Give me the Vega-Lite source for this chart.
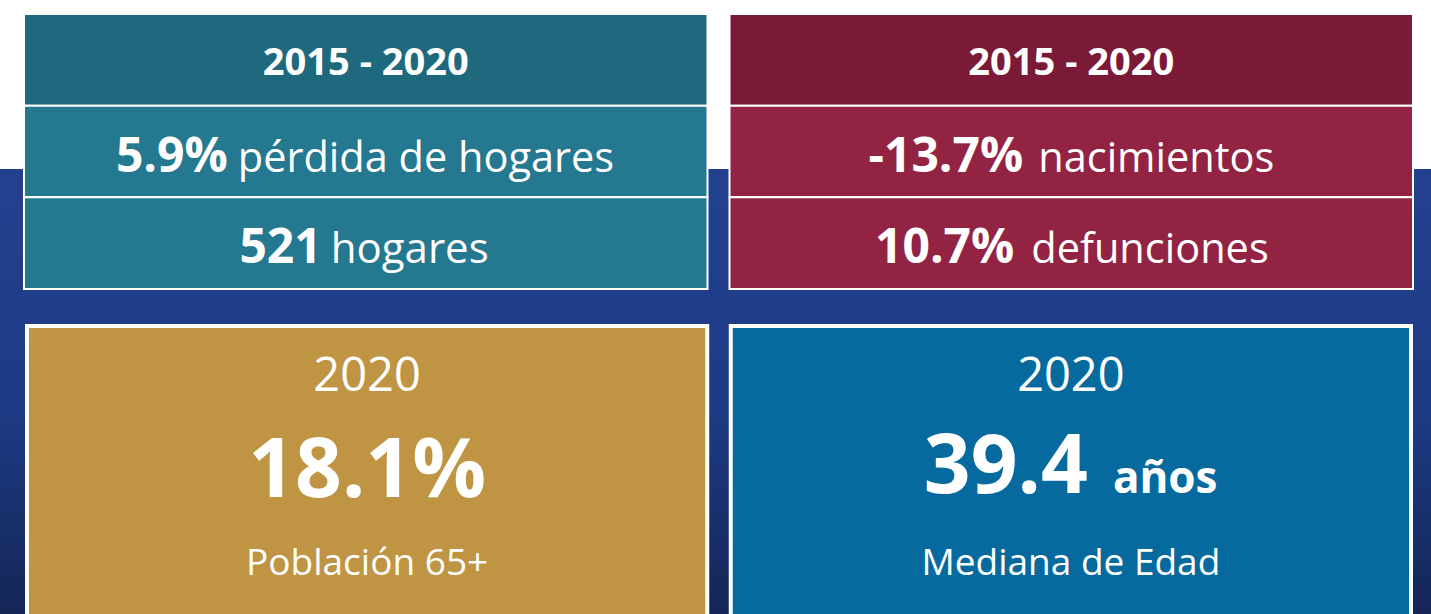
{
  "$schema": "https://vega.github.io/schema/vega-lite/v6.json",
  "width": 1431,
  "height": 614,
  "autosize": {"type": "fit", "contains": "padding"},
  "padding": 0,
  "background": "#ffffff",
  "config": {"view": {"stroke": null}, "text": {"font": "Open Sans", "color": "#ffffff", "baseline": "alphabetic"}},
  "datasets": {
    "fondo": [{"zona": "fondo"}],
    "tablas": [
      {"panel": "hogares", "fila": "encabezado", "cifra": "2015 - 2020", "texto": ""},
      {"panel": "hogares", "fila": "fila1", "cifra": "5.9%", "texto": "pérdida de hogares"},
      {"panel": "hogares", "fila": "fila2", "cifra": "521", "texto": "hogares"},
      {"panel": "vitales", "fila": "encabezado", "cifra": "2015 - 2020", "texto": ""},
      {"panel": "vitales", "fila": "fila1", "cifra": "-13.7%", "texto": "nacimientos"},
      {"panel": "vitales", "fila": "fila2", "cifra": "10.7%", "texto": "defunciones"}
    ],
    "tarjetas": [
      {"panel": "poblacion", "anio": "2020", "cifra": "18.1%", "unidad": "", "etiqueta": "Población 65+"},
      {"panel": "edad", "anio": "2020", "cifra": "39.4", "unidad": "años", "etiqueta": "Mediana de Edad"}
    ]
  },
  "layer": [
    {
      "data": {"name": "fondo"},
      "mark": {"type": "rect", "color": {"gradient": "linear", "x1": 0, "y1": 0, "x2": 0, "y2": 1, "stops": [{"offset": 0, "color": "#23418f"}, {"offset": 0.55, "color": "#1d3a84"}, {"offset": 1, "color": "#152656"}]}},
      "encoding": {
        "x": {"field": "zona", "type": "nominal", "axis": null, "scale": {"type": "band", "domain": ["fondo"], "range": [0, 1431], "paddingInner": 0, "paddingOuter": 0}},
        "y": {"field": "zona", "type": "nominal", "axis": null, "scale": {"type": "band", "domain": ["fondo"], "range": [169, 614], "paddingInner": 0, "paddingOuter": 0}}
      }
    },
    {
      "data": {"name": "tablas"},
      "encoding": {
        "x": {"field": "panel", "type": "nominal", "axis": null, "scale": {"type": "band", "domain": ["hogares", "vitales"], "range": [24, 1413], "paddingInner": 0.0312, "paddingOuter": 0}},
        "y": {"field": "fila", "type": "nominal", "axis": null, "scale": {"type": "band", "domain": ["encabezado", "fila1", "fila2"], "range": [14, 289], "paddingInner": 0, "paddingOuter": 0}}
      },
      "layer": [
        {
          "mark": {"type": "rect", "stroke": "#ffffff", "strokeWidth": 2},
          "encoding": {
            "color": {
              "condition": [
                {"test": "datum.panel === 'hogares' && datum.fila === 'encabezado'", "value": "#1f697e"},
                {"test": "datum.panel === 'hogares'", "value": "#24788f"},
                {"test": "datum.fila === 'encabezado'", "value": "#7a1a36"}
              ],
              "value": "#932342"
            }
          }
        },
        {
          "transform": [{"filter": "datum.fila === 'encabezado'"}],
          "mark": {"type": "text", "align": "center", "dy": 15, "fontSize": 38, "fontWeight": "bold"},
          "encoding": {"text": {"field": "cifra", "type": "nominal"}}
        },
        {
          "transform": [{"filter": "datum.panel === 'hogares' && datum.fila === 'fila1'"}],
          "mark": {"type": "text", "align": "right", "dx": -138, "dy": 20, "fontSize": 48, "fontWeight": "bold"},
          "encoding": {"text": {"field": "cifra", "type": "nominal"}}
        },
        {
          "transform": [{"filter": "datum.panel === 'hogares' && datum.fila === 'fila1'"}],
          "mark": {"type": "text", "align": "left", "dx": -128, "dy": 20, "fontSize": 41.5},
          "encoding": {"text": {"field": "texto", "type": "nominal"}}
        },
        {
          "transform": [{"filter": "datum.panel === 'hogares' && datum.fila === 'fila2'"}],
          "mark": {"type": "text", "align": "right", "dx": -44, "dy": 20, "fontSize": 48, "fontWeight": "bold"},
          "encoding": {"text": {"field": "cifra", "type": "nominal"}}
        },
        {
          "transform": [{"filter": "datum.panel === 'hogares' && datum.fila === 'fila2'"}],
          "mark": {"type": "text", "align": "left", "dx": -35, "dy": 20, "fontSize": 42},
          "encoding": {"text": {"field": "texto", "type": "nominal"}}
        },
        {
          "transform": [{"filter": "datum.panel === 'vitales' && datum.fila === 'fila1'"}],
          "mark": {"type": "text", "align": "right", "dx": -48, "dy": 20, "fontSize": 48, "fontWeight": "bold"},
          "encoding": {"text": {"field": "cifra", "type": "nominal"}}
        },
        {
          "transform": [{"filter": "datum.panel === 'vitales' && datum.fila === 'fila1'"}],
          "mark": {"type": "text", "align": "left", "dx": -33, "dy": 20, "fontSize": 41.5},
          "encoding": {"text": {"field": "texto", "type": "nominal"}}
        },
        {
          "transform": [{"filter": "datum.panel === 'vitales' && datum.fila === 'fila2'"}],
          "mark": {"type": "text", "align": "right", "dx": -57, "dy": 20, "fontSize": 48, "fontWeight": "bold"},
          "encoding": {"text": {"field": "cifra", "type": "nominal"}}
        },
        {
          "transform": [{"filter": "datum.panel === 'vitales' && datum.fila === 'fila2'"}],
          "mark": {"type": "text", "align": "left", "dx": -40, "dy": 20, "fontSize": 41.5},
          "encoding": {"text": {"field": "texto", "type": "nominal"}}
        }
      ]
    },
    {
      "data": {"name": "tarjetas"},
      "encoding": {
        "x": {"field": "panel", "type": "nominal", "axis": null, "scale": {"type": "band", "domain": ["poblacion", "edad"], "range": [27, 1411], "paddingInner": 0.0334, "paddingOuter": 0}},
        "y": {"field": "anio", "type": "nominal", "axis": null, "scale": {"type": "band", "domain": ["2020"], "range": [326, 640], "paddingInner": 0, "paddingOuter": 0}}
      },
      "layer": [
        {
          "mark": {"type": "rect", "stroke": "#ffffff", "strokeWidth": 4},
          "encoding": {
            "color": {
              "condition": [{"test": "datum.panel === 'poblacion'", "value": "#bf9443"}],
              "value": "#066a9e"
            }
          }
        },
        {
          "mark": {"type": "text", "align": "center", "dy": -92, "fontSize": 47, "fontWeight": 500},
          "encoding": {"text": {"field": "anio", "type": "nominal"}}
        },
        {
          "transform": [{"filter": "datum.panel === 'poblacion'"}],
          "mark": {"type": "text", "align": "center", "dy": 14, "fontSize": 82, "fontWeight": "bold"},
          "encoding": {"text": {"field": "cifra", "type": "nominal"}}
        },
        {
          "transform": [{"filter": "datum.panel === 'edad'"}],
          "mark": {"type": "text", "align": "right", "dx": 17, "dy": 10, "fontSize": 82, "fontWeight": "bold"},
          "encoding": {"text": {"field": "cifra", "type": "nominal"}}
        },
        {
          "transform": [{"filter": "datum.panel === 'edad'"}],
          "mark": {"type": "text", "align": "left", "dx": 42, "dy": 10, "fontSize": 44, "fontWeight": "bold"},
          "encoding": {"text": {"field": "unidad", "type": "nominal"}}
        },
        {
          "mark": {"type": "text", "align": "center", "dy": 92, "fontSize": 37},
          "encoding": {"text": {"field": "etiqueta", "type": "nominal"}}
        }
      ]
    }
  ],
  "resolve": {"scale": {"x": "independent", "y": "independent"}}
}
